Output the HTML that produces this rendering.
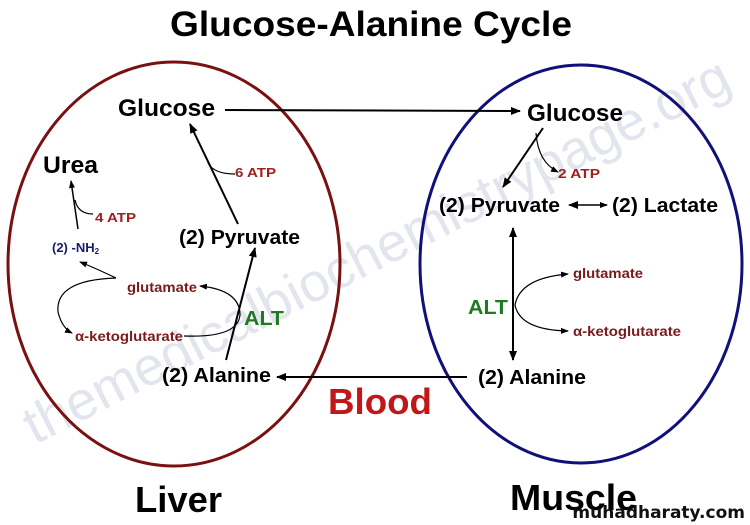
<!DOCTYPE html>
<html><head><meta charset="utf-8"><style>
html,body{margin:0;padding:0;background:#fff;}
svg{display:block;font-family:"Liberation Sans",Arial,sans-serif;font-weight:bold;}
</style></head><body>
<svg width="750" height="525" viewBox="0 0 750 525" xmlns="http://www.w3.org/2000/svg">
<defs>
<marker id="a" markerWidth="10" markerHeight="8" refX="9" refY="4" orient="auto" markerUnits="userSpaceOnUse"><path d="M0,0 L10,4 L0,8 z" fill="#000"/></marker>
<marker id="s" markerWidth="8" markerHeight="6" refX="7" refY="3" orient="auto" markerUnits="userSpaceOnUse"><path d="M0,0 L8,3 L0,6 z" fill="#000"/></marker>
<marker id="as" markerWidth="10" markerHeight="8" refX="1" refY="4" orient="auto" markerUnits="userSpaceOnUse"><path d="M10,0 L0,4 L10,8 z" fill="#000"/></marker>
</defs>
<!-- watermark -->
<text x="0" y="0" transform="translate(35,445) rotate(-27)" font-size="54" font-weight="normal" fill="#e2e5ee" textLength="785" lengthAdjust="spacingAndGlyphs">themedicalbiochemistrypage.org</text>

<text x="170" y="36" font-size="35" textLength="402" lengthAdjust="spacingAndGlyphs">Glucose-Alanine Cycle</text>

<ellipse cx="174" cy="264" rx="166" ry="202" fill="none" stroke="#7a1010" stroke-width="3"/>
<ellipse cx="581" cy="264" rx="161" ry="199" fill="none" stroke="#10107a" stroke-width="3"/>

<!-- Liver -->
<text x="118" y="116" font-size="24" textLength="97" lengthAdjust="spacingAndGlyphs">Glucose</text>
<text x="43" y="173" font-size="24" textLength="55" lengthAdjust="spacingAndGlyphs">Urea</text>
<text x="179" y="244" font-size="20" textLength="121" lengthAdjust="spacingAndGlyphs">(2) Pyruvate</text>
<text x="162" y="382" font-size="20" textLength="109" lengthAdjust="spacingAndGlyphs">(2) Alanine</text>
<text x="235" y="177" font-size="13" fill="#a02020" textLength="41" lengthAdjust="spacingAndGlyphs">6 ATP</text>
<text x="95" y="222" font-size="13" fill="#a02020" textLength="41" lengthAdjust="spacingAndGlyphs">4 ATP</text>
<text x="52" y="252" font-size="13" fill="#1a1a70">(2) -NH<tspan font-size="8" dy="2">2</tspan></text>
<text x="127" y="292" font-size="14" fill="#7a1a1a" textLength="70" lengthAdjust="spacingAndGlyphs">glutamate</text>
<text x="75" y="341" font-size="14" fill="#7a1a1a" textLength="108" lengthAdjust="spacingAndGlyphs">α-ketoglutarate</text>
<text x="244" y="325" font-size="20" fill="#1e7a1e" textLength="40" lengthAdjust="spacingAndGlyphs">ALT</text>

<line x1="238" y1="224" x2="190" y2="124" stroke="#000" stroke-width="2" marker-end="url(#a)"/>
<path d="M208,163 Q214,174 235,174" fill="none" stroke="#000" stroke-width="1.2"/>
<line x1="78" y1="229" x2="71" y2="181" stroke="#000" stroke-width="1.5" marker-end="url(#s)"/>
<path d="M75,200 Q78,214 93,214" fill="none" stroke="#000" stroke-width="1.2"/>
<line x1="226" y1="360" x2="255" y2="248" stroke="#000" stroke-width="2" marker-end="url(#a)"/>
<path d="M116,278 Q95,268 80,262" fill="none" stroke="#000" stroke-width="1.2" marker-end="url(#s)"/>
<path d="M116,278 Q55,280 58,312 Q62,328 72,333" fill="none" stroke="#000" stroke-width="1.2" marker-end="url(#s)"/>
<path d="M184,336 Q238,338 240,315 Q240,290 200,286" fill="none" stroke="#000" stroke-width="1.2" marker-end="url(#s)"/>

<!-- connectors -->
<line x1="225" y1="110" x2="520" y2="111" stroke="#000" stroke-width="2" marker-end="url(#a)"/>
<line x1="467" y1="377" x2="277" y2="377" stroke="#000" stroke-width="2" marker-end="url(#a)"/>
<text x="328" y="414" font-size="36" fill="#c01818" textLength="104" lengthAdjust="spacingAndGlyphs">Blood</text>

<!-- Muscle -->
<text x="527" y="121" font-size="24" textLength="96" lengthAdjust="spacingAndGlyphs">Glucose</text>
<text x="439" y="212" font-size="20" textLength="121" lengthAdjust="spacingAndGlyphs">(2) Pyruvate</text>
<text x="612" y="212" font-size="20" textLength="106" lengthAdjust="spacingAndGlyphs">(2) Lactate</text>
<text x="478" y="384" font-size="20" textLength="108" lengthAdjust="spacingAndGlyphs">(2) Alanine</text>
<text x="558" y="178" font-size="13" fill="#a02020" textLength="42" lengthAdjust="spacingAndGlyphs">2 ATP</text>
<text x="573" y="278" font-size="14" fill="#7a1a1a" textLength="70" lengthAdjust="spacingAndGlyphs">glutamate</text>
<text x="573" y="336" font-size="14" fill="#7a1a1a" textLength="108" lengthAdjust="spacingAndGlyphs">α-ketoglutarate</text>
<text x="468" y="314" font-size="20" fill="#1e7a1e" textLength="40" lengthAdjust="spacingAndGlyphs">ALT</text>

<line x1="543" y1="128" x2="503" y2="187" stroke="#000" stroke-width="2" marker-end="url(#a)"/>
<path d="M536,133 Q538,162 558,172" fill="none" stroke="#000" stroke-width="1.2" marker-end="url(#s)"/>
<line x1="569" y1="205" x2="607" y2="205" stroke="#000" stroke-width="1.5" marker-start="url(#as)" marker-end="url(#s)"/>
<line x1="513" y1="228" x2="513" y2="360" stroke="#000" stroke-width="2" marker-start="url(#as)" marker-end="url(#a)"/>
<path d="M515,305 Q520,278 568,274" fill="none" stroke="#000" stroke-width="1.2" marker-end="url(#s)"/>
<path d="M515,305 Q520,330 568,331" fill="none" stroke="#000" stroke-width="1.2" marker-end="url(#s)"/>

<text x="135" y="512" font-size="36" textLength="87" lengthAdjust="spacingAndGlyphs">Liver</text>
<text x="510" y="510" font-size="36" textLength="127" lengthAdjust="spacingAndGlyphs">Muscle</text>
<text x="745" y="518" text-anchor="end" font-size="17" font-family="DejaVu Sans,sans-serif" fill="#111">muhadharaty.com</text>
</svg>
</body></html>
